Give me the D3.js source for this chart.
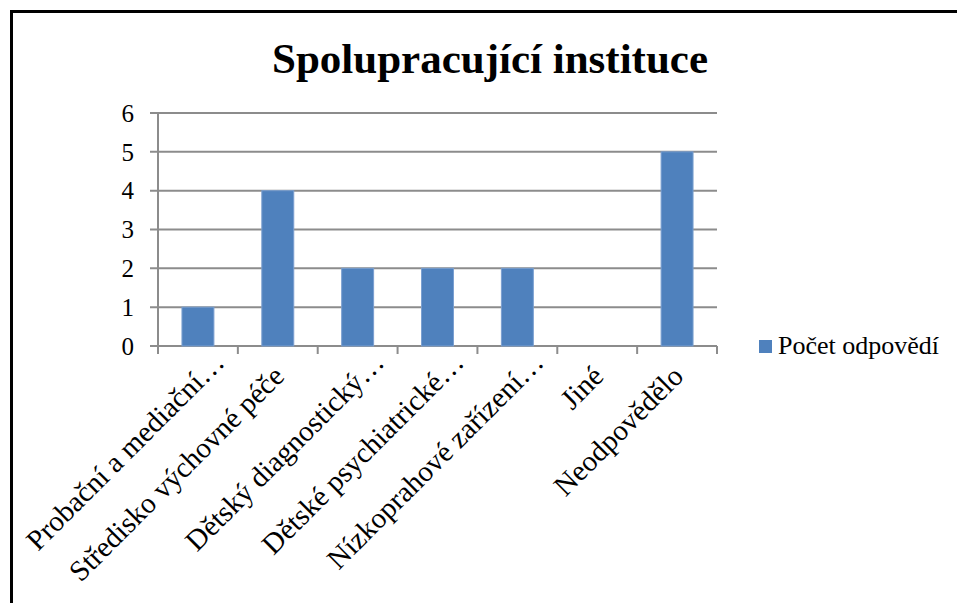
<!DOCTYPE html>
<html>
<head>
<meta charset="utf-8">
<script src="https://cdn.jsdelivr.net/npm/d3@7"></script>
<style>
  body { margin: 0; background: #fff; }
  text { font-family: "Liberation Serif", "Times New Roman", serif; fill: #000; }
</style>
</head>
<body>
<svg id="chart" width="957" height="603"></svg>
<script>
// data
var categories = ["Probační a mediační…", "Středisko výchovné péče", "Dětský diagnostický…",
                  "Dětské psychiatrické…", "Nízkoprahové zařízení…", "Jiné", "Neodpovědělo"];
var values = [1, 4, 2, 2, 2, 0, 5];
var yTicks = [0, 1, 2, 3, 4, 5, 6];
var seriesName = "Počet odpovědí";
var chartTitle = "Spolupracující instituce";

var svg = d3.select("#chart");

// outer frame (runs off the right and bottom edge)
svg.append("rect")
  .attr("x", 11.5).attr("y", 11.5)
  .attr("width", 1000).attr("height", 700)
  .attr("fill", "none").attr("stroke", "#000").attr("stroke-width", 3);

var plotLeft = 158, plotRight = 717, plotTop = 113, plotBottom = 346;

var x = d3.scaleBand().domain(categories).range([plotLeft, plotRight])
  .paddingInner(0.6).paddingOuter(0.3);
var y = d3.scaleLinear().domain([0, 6]).range([plotBottom, plotTop]);

// gridlines
svg.append("g").selectAll("line")
  .data(yTicks)
  .enter().append("line")
  .attr("x1", plotLeft - 8).attr("x2", plotRight)
  .attr("y1", d => y(d)).attr("y2", d => y(d))
  .attr("stroke", "#8c8c8c").attr("stroke-width", 2);

// y axis line
svg.append("line")
  .attr("x1", plotLeft).attr("x2", plotLeft)
  .attr("y1", y(6)).attr("y2", y(0))
  .attr("stroke", "#8c8c8c").attr("stroke-width", 2);

// x ticks at category boundaries
var bounds = d3.range(categories.length + 1).map(i => plotLeft + i * x.step());
svg.append("g").selectAll("line")
  .data(bounds)
  .enter().append("line")
  .attr("x1", d => d).attr("x2", d => d)
  .attr("y1", plotBottom).attr("y2", plotBottom + 8)
  .attr("stroke", "#8c8c8c").attr("stroke-width", 2);

// y labels
svg.append("g").selectAll("text")
  .data(yTicks)
  .enter().append("text")
  .attr("x", 134)
  .attr("y", d => y(d))
  .attr("dy", "0.35em")
  .attr("text-anchor", "end")
  .style("font-size", "25px")
  .text(d => d);

// bars
svg.append("g").selectAll("rect")
  .data(values)
  .enter().append("rect")
  .attr("x", (d, i) => x(categories[i]))
  .attr("y", d => y(d))
  .attr("width", x.bandwidth())
  .attr("height", d => y(0) - y(d))
  .attr("fill", "#4f81bd")
  .attr("stroke", "#7a9fd0").attr("stroke-width", 1);

// category labels, rotated
svg.append("g").selectAll("text")
  .data(categories)
  .enter().append("text")
  .attr("transform", function(d) {
      var cx = x(d) + x.bandwidth() / 2;
      var cut = d.slice(-1) == "…";
      var ax = cx + (cut ? 28 : 8);
      var ay = cut ? 364 : 378;
      return "translate(" + ax + "," + ay + ") rotate(-45)";
  })
  .attr("text-anchor", "end")
  .style("font-size", "29px")
  .text(d => d);

// title
svg.append("text")
  .attr("x", 490).attr("y", 73)
  .attr("text-anchor", "middle")
  .style("font-size", "43px")
  .style("font-weight", "bold")
  .text(chartTitle);

// legend
svg.append("rect")
  .attr("x", 759).attr("y", 340)
  .attr("width", 13).attr("height", 13)
  .attr("fill", "#4f81bd");
svg.append("text")
  .attr("x", 778).attr("y", 354)
  .style("font-size", "26px")
  .text(seriesName);
</script>
</body>
</html>
